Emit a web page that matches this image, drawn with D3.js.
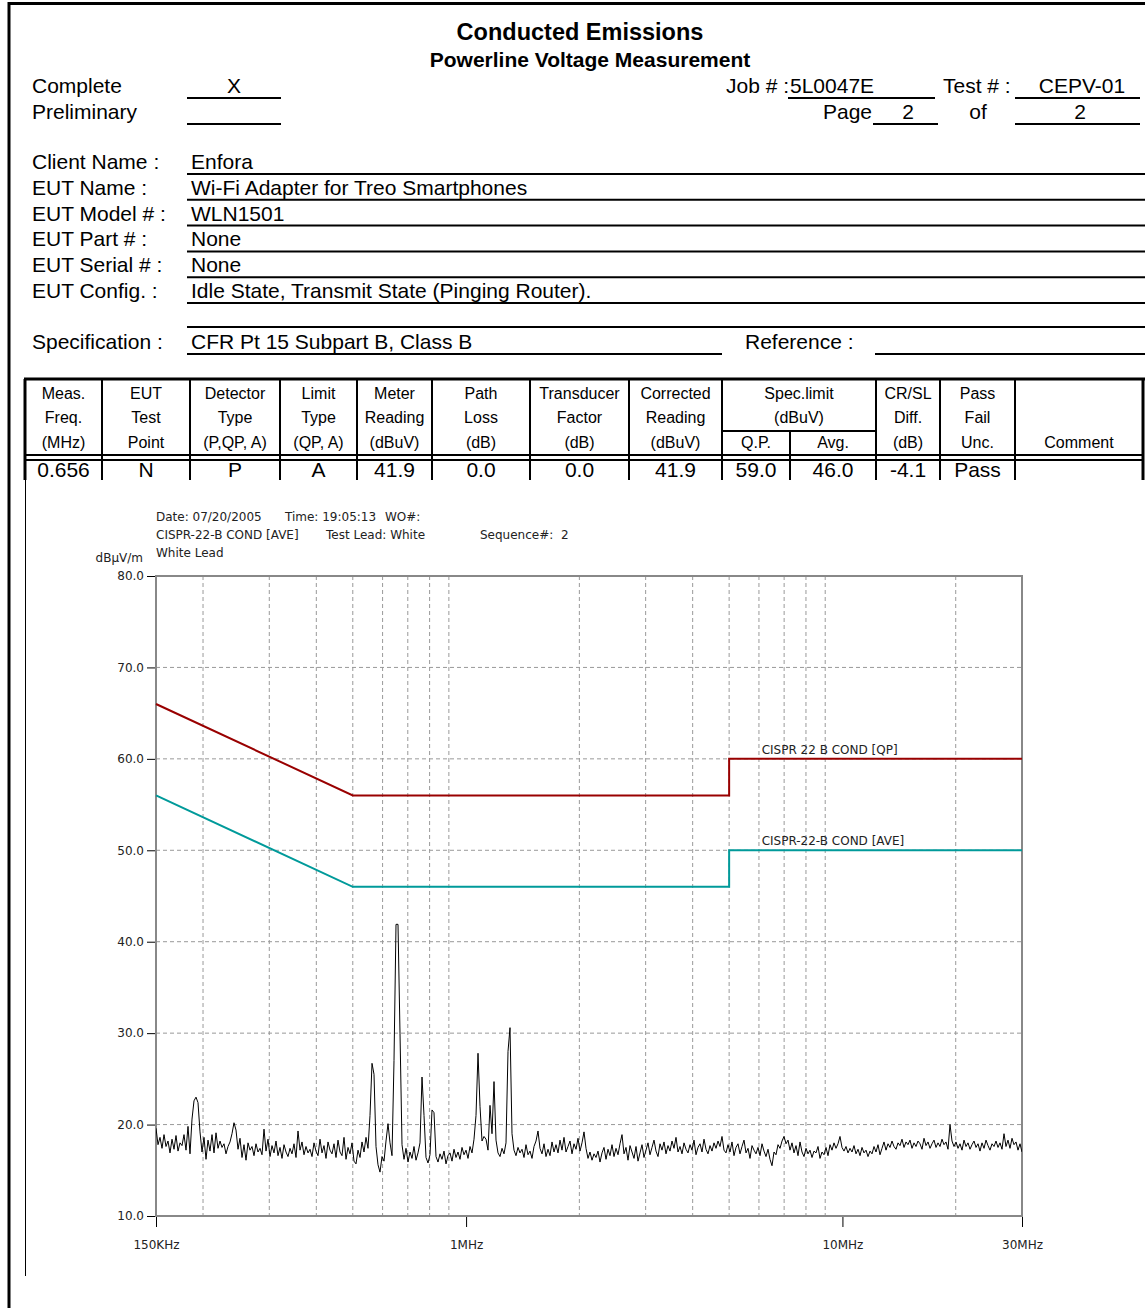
<!DOCTYPE html>
<html lang="en">
<head>
<meta charset="UTF-8">
<title>Conducted Emissions</title>
<script src="https://d3js.org/d3.v7.min.js"></script>
<style>
    body { margin: 0; padding: 0; background: #fff; }
    svg { display: block; }
    .form text { font-family: "Liberation Sans", Arial, sans-serif; fill: #000; }
    .chart text { font-family: "DejaVu Sans", sans-serif; font-size: 12px; fill: #222; }
</style>
</head>
<body>
<svg width="1145" height="1308"></svg>
<script>
// ---- report header data ----
const infoLabels = ["Client Name :", "EUT Name :", "EUT Model # :", "EUT Part # :", "EUT Serial # :", "EUT Config. :"];
const infoValues = ["Enfora", "Wi-Fi Adapter for Treo Smartphones", "WLN1501", "None", "None",
                    "Idle State, Transmit State (Pinging Router)."];

const headRow1 = ["Meas.", "EUT", "Detector", "Limit", "Meter", "Path", "Transducer", "Corrected", "", "", "CR/SL", "Pass", ""];
const headRow2 = ["Freq.", "Test", "Type", "Type", "Reading", "Loss", "Factor", "Reading", "", "", "Diff.", "Fail", ""];
const headRow3 = ["(MHz)", "Point", "(P,QP, A)", "(QP, A)", "(dBuV)", "(dB)", "(dB)", "(dBuV)", "Q.P.", "Avg.", "(dB)", "Unc.", "Comment"];
const rowValues = ["0.656", "N", "P", "A", "41.9", "0.0", "0.0", "41.9", "59.0", "46.0", "-4.1", "Pass", ""];

// ---- chart data ----
const freqStart = 0.15, freqStop = 30;   // MHz, sweep range
// measured trace (dBuV), one value per sweep point
const traceValues = [
    19.6, 17.8, 18.6, 17.4, 18.9, 17.6, 18.2, 16.9, 18.4, 17.3, 18.8, 17.1, 18.0, 17.7, 18.9, 17.2, 19.8, 16.8, 20.6, 22.6,
    23.0, 22.4, 19.2, 17.0, 18.6, 16.2, 18.3, 17.1, 18.9, 16.9, 19.1, 17.4, 18.2, 17.5, 17.9, 16.8, 17.6, 18.1, 19.0, 20.2,
    19.4, 17.3, 18.5, 16.4, 17.8, 16.1, 18.0, 17.2, 17.6, 16.6, 17.9, 17.0, 17.4, 16.7, 19.5, 17.1, 18.4, 16.5, 17.7, 16.9,
    18.2, 16.6, 17.5, 16.3, 17.8, 17.0, 16.5, 17.4, 16.8, 17.9, 16.4, 19.3, 17.2, 18.1, 16.7, 17.6, 16.9, 17.3, 16.5, 18.0,
    17.1, 16.6, 18.4, 16.9, 17.7, 16.3, 18.1, 17.2, 16.8, 17.9, 16.4, 18.3, 17.0, 16.6, 18.6, 16.2, 17.5, 16.8, 18.0, 16.0,
    15.7, 17.2, 16.4, 18.1, 17.0, 18.6, 17.4, 21.0, 26.7, 25.5, 17.6, 15.6, 14.8, 16.5, 16.0, 18.2, 20.1, 18.0, 16.6, 27.0,
    41.9, 41.9, 30.0, 17.8, 16.2, 17.4, 15.9, 17.0, 16.3, 17.6, 16.1, 16.9, 18.0, 25.2, 21.0, 16.4, 15.8, 16.7, 21.6, 21.3,
    16.5, 15.9, 16.8, 16.2, 17.1, 15.7, 16.6, 16.9, 16.0, 17.3, 16.4, 17.0, 16.2, 17.5, 16.7, 17.2, 16.3, 17.6, 16.9, 18.4,
    21.0, 27.8, 22.0, 18.2, 18.7, 18.4, 17.2, 22.1, 19.0, 24.7, 18.3, 16.9, 16.5, 17.4, 16.8, 18.0, 28.0, 30.6, 19.0, 17.2,
    16.6, 17.5, 16.9, 17.3, 16.4, 17.8, 16.7, 17.1, 16.3, 17.6, 18.2, 19.3, 17.4, 16.8, 17.9, 16.5, 17.3, 16.6, 18.1, 17.0,
    17.8, 16.9, 18.3, 17.2, 18.6, 17.0, 17.6, 18.2, 16.8, 17.9, 17.3, 18.5, 17.1, 18.0, 19.2, 17.4, 16.3, 17.0, 16.1, 16.8,
    16.4, 17.1, 15.9, 16.9, 17.5, 16.2, 17.3, 16.6, 17.8, 16.5, 17.4, 16.7, 17.9, 18.9, 16.8, 17.5, 16.1, 17.7, 17.0, 16.3,
    17.6, 16.0, 16.9, 17.8, 16.4, 17.2, 18.0, 16.7, 17.5, 18.3, 17.1, 16.5, 17.9, 17.2, 18.1, 16.8, 17.7, 17.1, 18.2, 17.4,
    18.6, 17.0, 17.6, 16.8, 18.0, 17.3, 16.9, 17.8, 17.2, 18.3, 16.7, 17.5, 17.9, 17.0, 18.4, 17.3, 16.8, 17.7, 17.1, 18.0,
    17.4, 18.2, 17.6, 18.7, 17.2, 16.9, 17.8, 17.0, 18.1, 16.6, 17.5, 17.9, 16.8, 17.6, 18.3, 16.9, 17.4, 16.3, 17.7, 17.2,
    16.8, 17.5, 16.6, 17.9, 17.1, 16.5, 17.3, 16.2, 15.5, 17.0, 16.7, 17.8, 17.4, 18.2, 18.7, 17.9, 18.3, 17.2, 18.0, 16.9,
    17.7, 16.6, 18.1, 17.0, 16.5, 17.4, 16.8, 17.2, 16.4, 17.1, 16.9, 17.6, 16.3, 17.0, 16.7, 17.5, 16.6, 17.8, 17.2, 18.0,
    17.4, 17.9, 18.7, 17.5, 17.1, 17.6, 16.9, 17.4, 17.0, 17.7, 16.8, 17.3, 16.6, 17.5, 16.9, 17.2, 16.5, 17.1, 16.8, 17.6,
    17.0, 17.8, 16.7, 17.4, 18.1, 17.2, 17.9, 17.5, 18.2, 17.6, 17.3, 18.0, 17.7, 18.4, 17.5, 18.1, 17.8, 18.3, 17.4, 18.0,
    17.6, 18.2, 17.9, 17.3, 18.5, 17.7, 18.1, 17.4, 17.9, 18.3, 17.5, 18.0, 17.6, 18.4, 17.8, 18.1, 17.3, 20.0, 18.2, 17.6,
    18.1, 17.4, 17.9, 17.2, 18.3, 17.6, 18.0, 17.3, 17.8, 18.2, 17.5, 17.9, 17.1, 18.0, 17.4, 18.3, 17.7, 17.2, 17.9, 17.6,
    18.2, 17.5, 18.0, 17.3, 19.0, 17.6, 18.3, 17.4, 18.5, 17.8, 18.1, 17.2, 17.9, 17.0
];
const qpLimit  = [[0.15, 66], [0.5, 56], [5, 56], [5, 60], [30, 60]];
const aveLimit = [[0.15, 56], [0.5, 46], [5, 46], [5, 50], [30, 50]];
const yTicks = [10, 20, 30, 40, 50, 60, 70, 80];
const xTicks = [0.15, 1, 10, 30];
const xTickLabels = ["150KHz", "1MHz", "10MHz", "30MHz"];
const xGrid = [0.2, 0.3, 0.4, 0.5, 0.6, 0.7, 0.8, 0.9, 2, 3, 4, 5, 6, 7, 8, 9, 20];

const svg = d3.select("svg");

// ================= form part =================
const form = svg.append("g").attr("class", "form");

function hline(x1, x2, y, w) {
    form.append("line").attr("x1", x1).attr("x2", x2).attr("y1", y).attr("y2", y)
        .attr("stroke", "#000").attr("stroke-width", w || 2);
}
function vline(x, y1, y2, w) {
    form.append("line").attr("x1", x).attr("x2", x).attr("y1", y1).attr("y2", y2)
        .attr("stroke", "#000").attr("stroke-width", w || 2);
}
function txt(s, x, y, size, anchor, weight) {
    form.append("text").attr("x", x).attr("y", y)
        .attr("font-size", size).attr("text-anchor", anchor || "start")
        .attr("font-weight", weight || "normal").text(s);
}

// page border
hline(8, 1145, 3.5, 3);
vline(9, 2, 1308, 3);

txt("Conducted Emissions", 580, 40, 23.5, "middle", "bold");
txt("Powerline Voltage Measurement", 590, 67, 21, "middle", "bold");

txt("Complete", 32, 93, 21);
txt("Preliminary", 32, 119, 21);
txt("X", 234, 93, 21, "middle");
hline(187, 281, 98);
hline(187, 281, 124);

txt("Job # :", 726, 93, 21);
txt("5L0047E", 790, 93, 21);
hline(788, 935, 98);
txt("Test # :", 943, 93, 21);
txt("CEPV-01", 1082, 93, 21, "middle");
hline(1015, 1140, 98);
txt("Page", 823, 119, 21);
txt("2", 908, 119, 21, "middle");
hline(873, 938, 124);
txt("of", 978, 119, 21, "middle");
txt("2", 1080, 119, 21, "middle");
hline(1015, 1140, 124);

infoLabels.forEach((l, i) => {
    const by = 169 + i * 25.8;
    txt(l, 32, by, 21);
    txt(infoValues[i], 191, by, 21);
    hline(187, 1145, by + 5);
});
hline(187, 1145, 327);
txt("Specification :", 32, 349, 21);
txt("CFR Pt 15 Subpart B, Class B", 191, 349, 21);
hline(187, 722, 354);
txt("Reference :", 745, 349, 21);
hline(875, 1145, 354);

// measurement table
const colEdges = [25, 102, 190, 280, 357, 432, 530, 629, 722, 790, 876, 940, 1015, 1143];
const tTop = 379, tBottom = 480;
hline(24, 1145, tTop, 3);
colEdges.forEach((cx, i) => {
    const outer = (i === 0 || i === colEdges.length - 1);
    if (i === 9) vline(cx, 431, tBottom, 2);
    else vline(cx, tTop, tBottom, outer ? 3 : 2);
});
hline(722, 876, 431, 2);
hline(25, 1143, 455, 2);
hline(25, 1143, 460, 2);

const centers = colEdges.slice(0, -1).map((e, i) => (e + colEdges[i + 1]) / 2);
centers.forEach((c, i) => {
    txt(headRow1[i], c, 399, 16, "middle");
    txt(headRow2[i], c, 423, 16, "middle");
    txt(headRow3[i], c, 448, 16, "middle");
    txt(rowValues[i], c, 477, 21, "middle");
});
txt("Spec.limit", (722 + 876) / 2, 399, 16, "middle");
txt("(dBuV)", (722 + 876) / 2, 423, 16, "middle");

// ================= chart part =================
const chart = svg.append("g").attr("class", "chart");
chart.append("rect").attr("x", 26).attr("y", 480).attr("width", 1119).attr("height", 828).attr("fill", "#fff");
chart.append("line").attr("x1", 25.5).attr("x2", 25.5).attr("y1", 480).attr("y2", 1276)
     .attr("stroke", "#000").attr("stroke-width", 1);

const x = d3.scaleLog().domain([freqStart, freqStop]).range([156, 1022]);
const y = d3.scaleLinear().domain([10, 80]).range([1216, 576]);

// grid
chart.append("g").selectAll("line").data(xGrid).join("line")
    .attr("x1", d => x(d)).attr("x2", d => x(d))
    .attr("y1", y(80)).attr("y2", y(10))
    .attr("stroke", "#999").attr("stroke-dasharray", "4,3");
chart.append("g").selectAll("line").data(yTicks.slice(1, -1)).join("line")
    .attr("x1", x(freqStart)).attr("x2", x(freqStop))
    .attr("y1", d => y(d)).attr("y2", d => y(d))
    .attr("stroke", "#999").attr("stroke-dasharray", "4,3");

// axes
const yAxis = chart.append("g").attr("transform", `translate(${x(freqStart)},0)`)
    .call(d3.axisLeft(y).tickValues(yTicks).tickFormat(d3.format(".1f")).tickSize(9).tickPadding(3));
const xAxis = chart.append("g").attr("transform", `translate(0,${y(10)})`)
    .call(d3.axisBottom(x).tickValues(xTicks).tickFormat((d, i) => xTickLabels[i]).tickSize(11).tickPadding(13));
[yAxis, xAxis].forEach(a => {
    a.select(".domain").remove();
    a.selectAll("text").attr("font-family", null).attr("font-size", null);
    a.selectAll(".tick line").attr("stroke", "#000");
});

// frame
chart.append("rect").attr("x", x(freqStart)).attr("y", y(80))
    .attr("width", x(freqStop) - x(freqStart)).attr("height", y(10) - y(80))
    .attr("fill", "none").attr("stroke", "#888").attr("stroke-width", 2);

chart.append("clipPath").attr("id", "plot").append("rect")
    .attr("x", x(freqStart)).attr("y", y(80))
    .attr("width", x(freqStop) - x(freqStart)).attr("height", y(10) - y(80));

// limits
const limLine = d3.line().x(d => x(d[0])).y(d => y(d[1]));
chart.append("path").datum(qpLimit).attr("d", limLine)
    .attr("fill", "none").attr("stroke", "#990000").attr("stroke-width", 2);
chart.append("path").datum(aveLimit).attr("d", limLine)
    .attr("fill", "none").attr("stroke", "#009a9a").attr("stroke-width", 2);
chart.append("text").attr("x", x(6.1)).attr("y", y(60) - 5).text("CISPR 22 B COND [QP]");
chart.append("text").attr("x", x(6.1)).attr("y", y(50) - 5).text("CISPR-22-B COND [AVE]");

// trace
const n = traceValues.length;
const trace = traceValues.map((v, i) => [freqStart * Math.pow(freqStop / freqStart, i / (n - 1)), v]);
chart.append("path").datum(trace).attr("d", limLine).attr("clip-path", "url(#plot)")
    .attr("fill", "none").attr("stroke", "#000").attr("stroke-width", 1);

// header texts in chart
const hdr = [
    ["Date: 07/20/2005", 156, 521], ["Time: 19:05:13", 285, 521], ["WO#:", 385, 521],
    ["CISPR-22-B COND [AVE]", 156, 539], ["Test Lead: White", 326, 539], ["Sequence#:  2", 480, 539],
    ["White Lead", 156, 557]
];
chart.selectAll(".hdr").data(hdr).join("text").attr("class", "hdr")
    .attr("x", d => d[1]).attr("y", d => d[2]).attr("xml:space", "preserve").text(d => d[0]);
chart.append("text").attr("x", 143).attr("y", 562).attr("text-anchor", "end").text("dBµV/m");
</script>
</body>
</html>
